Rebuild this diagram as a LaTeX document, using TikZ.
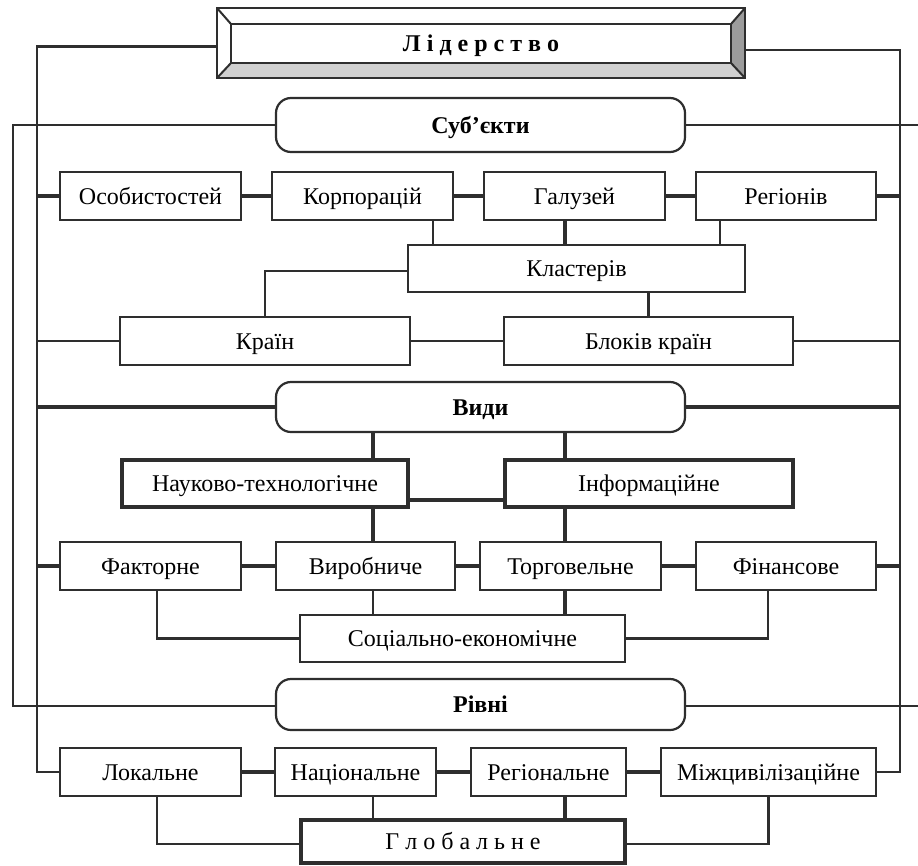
\documentclass[tikz,border=0pt]{standalone}
\usepackage{fontspec}
\setmainfont{Liberation Serif}
\usetikzlibrary{backgrounds}

\definecolor{ink}{HTML}{2E2E2E}
\definecolor{bevlow}{HTML}{D0D0D0}
\definecolor{bevside}{HTML}{9C9C9C}

\tikzset{
  labelfont/.style={font=\fontsize{24}{28}\selectfont},
  box/.style={draw=ink, line width=2.4pt, fill=white, inner sep=0pt,
              minimum height=48pt, text height=16pt, text depth=0pt, labelfont},
  heavybox/.style={box, line width=4pt},
  capsule/.style={box, rounded corners=15pt, line width=2.2pt,
                  minimum width=409pt, font=\bfseries\fontsize{24}{28}\selectfont},
  titlebox/.style={inner sep=0pt, minimum width=528pt, minimum height=70pt,
                   text height=16pt, text depth=0pt,
                   font=\bfseries\fontsize{24}{28}\selectfont},
  bevedge/.style={draw=ink, line width=2pt, line join=miter},
  linkthin/.style={draw=ink, line width=1.7pt},
  linkmid/.style={draw=ink, line width=2.3pt},
  linkbold/.style={draw=ink, line width=3.6pt},
}

\begin{document}
\begin{tikzpicture}[x=1pt,y=-1pt]
\useasboundingbox (0,0) rectangle (918,865);

% ---- heading with bevelled frame ----
\node[titlebox] (title) at (481,43) {Л і д е р с т в о};
\begin{scope}[on background layer]
  \fill[white] (title.south west) rectangle (title.north east);
  \fill[bevlow] (title.south west) -- (title.south east)
     -- ([shift={(-14,-15)}]title.south east) -- ([shift={(14,-15)}]title.south west) -- cycle;
  \fill[bevside] (title.south east) -- (title.north east)
     -- ([shift={(-14,16)}]title.north east) -- ([shift={(-14,-15)}]title.south east) -- cycle;
  \draw[bevedge] (title.south west) rectangle (title.north east);
  \draw[bevedge] ([shift={(14,-15)}]title.south west) rectangle ([shift={(-14,16)}]title.north east);
  \draw[bevedge] (title.north west) -- ([shift={(14,16)}]title.north west);
  \draw[bevedge] (title.south west) -- ([shift={(14,-15)}]title.south west);
  \draw[bevedge] (title.north east) -- ([shift={(-14,16)}]title.north east);
  \draw[bevedge] (title.south east) -- ([shift={(-14,-15)}]title.south east);
\end{scope}

% ---- section headers ----
\node[capsule, minimum height=54pt] (subj)  at (480.5,125)   {Суб’єкти};
\node[capsule, minimum height=50pt] (vydy)  at (480.5,407)   {Види};
\node[capsule, minimum height=51pt] (rivni) at (480.5,704.5) {Рівні};

% ---- subjects ----
\node[box, minimum width=181pt] (osob)   at (150.5,196) {Особистостей};
\node[box, minimum width=181pt] (korp)   at (362.5,196) {Корпорацій};
\node[box, minimum width=181pt] (galuz)  at (574.5,196) {Галузей};
\node[box, minimum width=180pt] (region) at (786,196)   {Регіонів};
\node[box, minimum width=337pt, minimum height=47pt] (klast) at (576.5,268.5) {Кластерів};
\node[box, minimum width=290pt] (krain)  at (265,341)   {Країн};
\node[box, minimum width=289pt] (blokiv) at (648.5,341) {Блоків країн};

% ---- kinds ----
\node[heavybox, minimum width=286pt, minimum height=47pt] (nauk)   at (265,483.5) {Науково-технологічне};
\node[heavybox, minimum width=288pt, minimum height=47pt] (inform) at (649,483.5) {Інформаційне};
\node[box, minimum width=181pt] (faktor) at (150.5,566) {Факторне};
\node[box, minimum width=179pt] (vyrob)  at (365.5,566) {Виробниче};
\node[box, minimum width=181pt] (torg)   at (570.5,566) {Торговельне};
\node[box, minimum width=180pt] (finans) at (786,566)   {Фінансове};
\node[box, minimum width=325pt, minimum height=47pt] (socec) at (462.5,638.5) {Соціально-економічне};

% ---- levels ----
\node[box, minimum width=181pt] (lokal)    at (150.5,772) {Локальне};
\node[box, minimum width=161pt] (nats)     at (355.5,772) {Національне};
\node[box, minimum width=155pt] (regional) at (548.5,772) {Регіональне};
\node[box, minimum width=215pt] (mizhc)    at (768.5,772) {Міжцивілізаційне};
\node[heavybox, minimum width=324pt, minimum height=43pt] (global) at (463,841.5) {Г л о б а л ь н е};

% ---- outer frame lines ----
\coordinate (Ltop) at (37,46.5);
\coordinate (Lbot) at (37,772);
\coordinate (Rtop) at (900,50);
\coordinate (Rbot) at (900,772);
\coordinate (LLtop) at (13,125);
\coordinate (LLbot) at (13,706);
\coordinate (Rsubj) at (918,125);
\coordinate (Rrivni) at (918,706);

\begin{scope}[on background layer]
\draw[linkmid] (title.west |- Ltop) -- (Ltop) -- (Lbot) -- (lokal.west);
\draw[linkmid] (title.east |- Rtop) -- (Rtop) -- (Rbot) -- (mizhc.east);
\draw[linkthin] (subj.west) -- (LLtop) -- (LLbot) -- (rivni.west |- LLbot);
\draw[linkthin] (subj.east) -- (Rsubj);
\draw[linkthin] (rivni.east |- Rrivni) -- (Rrivni);

\draw[linkbold] (osob.west -| Ltop) -- (osob.west);
\draw[linkmid]  (krain.west -| Ltop) -- (krain.west);
\draw[linkbold] (vydy.west -| Ltop) -- (vydy.west);
\draw[linkbold] (faktor.west -| Ltop) -- (faktor.west);
\draw[linkbold] (region.east) -- (region.east -| Rtop);
\draw[linkmid]  (blokiv.east) -- (blokiv.east -| Rtop);
\draw[linkbold] (vydy.east) -- (vydy.east -| Rtop);
\draw[linkbold] (finans.east) -- (finans.east -| Rtop);

% ---- subjects links ----
\draw[linkbold] (osob) -- (korp);
\draw[linkbold] (korp) -- (galuz);
\draw[linkbold] (galuz) -- (region);
\draw[linkmid]  ([xshift=70.5pt]korp.south) -- ([xshift=70.5pt]korp.south |- klast.north);
\draw[linkbold] ([xshift=-9.5pt]galuz.south) -- ([xshift=-9.5pt]galuz.south |- klast.north);
\draw[linkmid]  ([xshift=-66pt]region.south) -- ([xshift=-66pt]region.south |- klast.north);
\draw[linkmid]  ([yshift=-2.5pt]klast.west) -| (krain.north);
\draw[linkbold] (blokiv.north |- klast.south) -- (blokiv.north);
\draw[linkmid]  (krain) -- (blokiv);

% ---- kinds links ----
\draw[linkbold] ([xshift=-107.5pt]vydy.south) -- ([xshift=-107.5pt]vydy.south |- nauk.north);
\draw[linkbold] ([xshift=84.5pt]vydy.south) -- ([xshift=84.5pt]vydy.south |- inform.north);
\draw[linkbold] ([yshift=-16.5pt]nauk.east) -- ([yshift=-16.5pt]nauk.east -| inform.west);
\draw[linkbold] ([xshift=108pt]nauk.south) -- ([xshift=108pt]nauk.south |- vyrob.north);
\draw[linkbold] ([xshift=-84pt]inform.south) -- ([xshift=-84pt]inform.south |- torg.north);
\draw[linkbold] (faktor) -- (vyrob);
\draw[linkbold] (vyrob) -- (torg);
\draw[linkbold] (torg) -- (finans);
\draw[linkmid]  ([xshift=6.5pt]faktor.south) |- (socec.west);
\draw[linkmid]  ([xshift=7.5pt]vyrob.south) -- ([xshift=7.5pt]vyrob.south |- socec.north);
\draw[linkbold] ([xshift=-5.5pt]torg.south) -- ([xshift=-5.5pt]torg.south |- socec.north);
\draw[linkmid]  ([xshift=-18pt]finans.south) |- (socec.east);

% ---- levels links ----
\draw[linkbold] (lokal) -- (nats);
\draw[linkbold] (nats) -- (regional);
\draw[linkbold] (regional) -- (mizhc);
\draw[linkmid]  ([xshift=6.5pt]lokal.south) |- ([yshift=-2.5pt]global.west);
\draw[linkmid]  ([xshift=17.5pt]nats.south) -- ([xshift=17.5pt]nats.south |- global.north);
\draw[linkbold] ([xshift=16.5pt]regional.south) -- ([xshift=16.5pt]regional.south |- global.north);
\draw[linkmid]  (mizhc.south) |- ([yshift=-2.5pt]global.east);
\end{scope}
\end{tikzpicture}
\end{document}
